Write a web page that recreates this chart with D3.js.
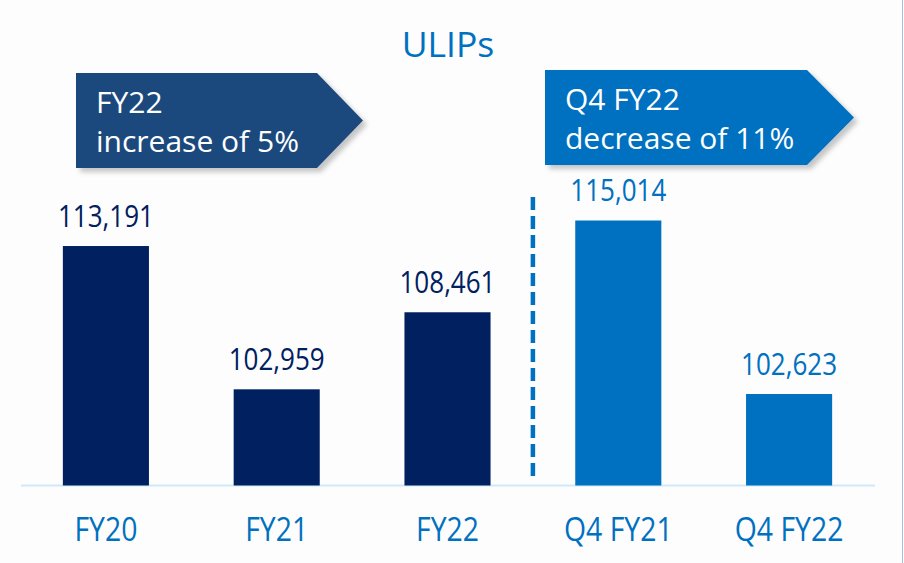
<!DOCTYPE html>
<html>
<head>
<meta charset="utf-8">
<script src="https://cdn.jsdelivr.net/npm/d3@7"></script>
<style>
  html, body { margin: 0; padding: 0; background: #fdfdfd; }
  svg { display: block; font-family: "Open Sans", sans-serif; }
</style>
</head>
<body>
<svg id="chart" width="904" height="563"></svg>
<script>
// ULIPs new business: annual and Q4 comparison
const categories = ["FY20", "FY21", "FY22", "Q4 FY21", "Q4 FY22"];
const values = [113191, 102959, 108461, 115014, 102623];
const periods = ["year", "year", "year", "quarter", "quarter"];
const title = "ULIPs";
const calloutYear = ["FY22", "increase of 5%"];
const calloutQuarter = ["Q4 FY22", "decrease of 11%"];

const W = 904, H = 563;
const baseY = 485.5;
const navy = "#002060", blue = "#0070c0";

const svg = d3.select("#chart");

const defs = svg.append("defs");
const shadow = defs.append("filter").attr("id", "shadow")
  .attr("x", "-10%").attr("y", "-10%").attr("width", "130%").attr("height", "140%");
shadow.append("feDropShadow").attr("dx", 4).attr("dy", 4).attr("stdDeviation", 2.5)
  .attr("flood-color", "#000").attr("flood-opacity", 0.22);

// right frame edge
svg.append("line").attr("x1", 902.5).attr("x2", 902.5).attr("y1", 0).attr("y2", H)
  .attr("stroke", "#a9c0dc").attr("stroke-width", 1);

const x = d3.scaleBand().domain(categories).range([20.5, 874.5])
  .paddingInner(0.496).paddingOuter(0.248);
// value axis does not start at zero
const y = d3.scaleLinear().domain([96090, 115014]).range([baseY, 220.5]);
const color = d3.scaleOrdinal().domain(["year", "quarter"]).range([navy, blue]);

const rows = categories.map((c, i) => ({ c, v: values[i], p: periods[i] }));

// title
svg.append("text").attr("x", 448).attr("y", 57).attr("text-anchor", "middle")
  .attr("fill", blue).attr("font-size", 35.5).text(title);

// callout arrows
function callout(x0, y0, x1, tip, h, fill, lines, tx, ty) {
  const g = svg.append("g");
  g.append("path")
    .attr("d", `M${x0},${y0}H${x1}L${tip},${y0 + h / 2}L${x1},${y0 + h}H${x0}Z`)
    .attr("fill", fill).attr("filter", "url(#shadow)");
  g.selectAll("text").data(lines).join("text")
    .attr("x", tx).attr("y", (d, i) => ty + i * 38.5)
    .attr("fill", "#fff").attr("font-size", 30).text(d => d);
}
callout(76, 73, 317, 363, 95, "#1f497d", calloutYear, 96, 113);
callout(545, 70, 807, 854, 95, blue, calloutQuarter, 565, 110);

// baseline
svg.append("line").attr("x1", 21).attr("x2", 875).attr("y1", baseY).attr("y2", baseY)
  .attr("stroke", "#d2e9fa").attr("stroke-width", 2);

// bars
svg.selectAll("rect.bar").data(rows).join("rect").attr("class", "bar")
  .attr("x", d => x(d.c)).attr("width", x.bandwidth())
  .attr("y", d => y(d.v)).attr("height", d => baseY - y(d.v))
  .attr("fill", d => color(d.p));

// value labels
const fmt = d3.format(",");
svg.selectAll("text.val").data(rows).join("text").attr("class", "val")
  .attr("transform", d => `translate(${x(d.c) + x.bandwidth() / 2},${y(d.v) - 19.5}) scale(0.84,1)`)
  .attr("text-anchor", "middle").attr("font-size", 31)
  .attr("fill", d => color(d.p)).text(d => fmt(d.v));

// category labels
svg.selectAll("text.cat").data(rows).join("text").attr("class", "cat")
  .attr("transform", d => `translate(${x(d.c) + x.bandwidth() / 2},541) scale(0.86,1)`)
  .attr("text-anchor", "middle").attr("font-size", 33)
  .attr("fill", blue).text(d => d.c);

// divider between annual and quarterly bars
const lastYear = rows.filter(d => d.p === "year").pop().c;
const firstQuarter = rows.find(d => d.p === "quarter").c;
const divX = (x(lastYear) + x.bandwidth() + x(firstQuarter)) / 2;
svg.append("line").attr("x1", divX).attr("x2", divX).attr("y1", 197).attr("y2", 476)
  .attr("stroke", blue).attr("stroke-width", 4.5).attr("stroke-dasharray", "13 6");
</script>
</body>
</html>
